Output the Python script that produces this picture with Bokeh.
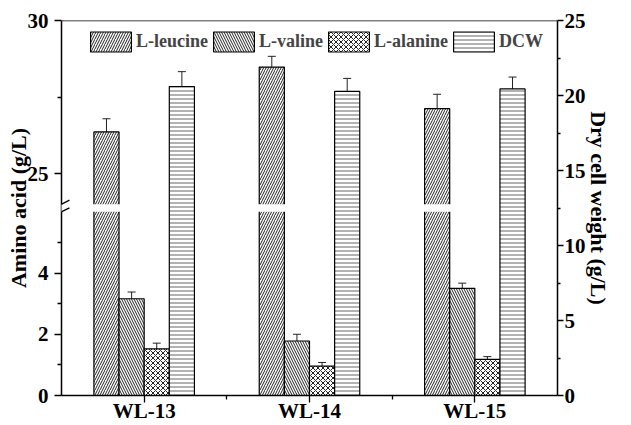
import math
from bokeh.plotting import figure
from bokeh.models import (Range1d, LinearAxis, FixedTicker, Whisker, TeeHead, ColumnDataSource,
                          Legend, LegendItem, Span, PolyAnnotation, Arrow)
from bokeh.core.properties import value
from bokeh.embed import file_html
from bokeh.resources import INLINE

# ---------------- data ----------------
categories = ["WL-13", "WL-14", "WL-15"]
series_names = ["L-leucine", "L-valine", "L-alanine", "DCW"]
leucine = [26.36, 28.48, 27.12]
leucine_err = [0.43, 0.35, 0.47]
valine = [3.16, 1.78, 3.50]
valine_err = [0.22, 0.22, 0.17]
alanine = [1.52, 0.96, 1.18]
alanine_err = [0.19, 0.12, 0.09]
dcw = [20.60, 20.27, 20.44]
dcw_err = [0.99, 0.87, 0.79]

left_major = [0, 2, 4, 25, 30]
left_minor = [1, 3, 5, 27.5]
right_major = [0, 5, 10, 15, 20, 25]
right_minor = [2.5, 7.5, 12.5, 17.5, 22.5]

# broken left axis: [0, 6] and [24, 30]
LOWER_END = 6.0
UPPER_START = 24.0
UPPER_END = 30.0
GAP = 0.25


def to_axis(v):
    return v if v <= LOWER_END else v - UPPER_START + LOWER_END + GAP


FONT = "Liberation Serif"
W, H = 615, 425
BL, BR, BT, BB = 61, 58, 20, 30

p = figure(width=W, height=H, output_backend="svg", toolbar_location=None,
           x_range=Range1d(-0.5, 2.5), y_range=Range1d(0, to_axis(UPPER_END)),
           x_axis_type=None, y_axis_type=None,
           min_border_left=BL, min_border_right=BR, min_border_top=BT, min_border_bottom=BB)
p.outline_line_color = None
p.background_fill_color = "white"
p.border_fill_color = "white"
p.extra_y_ranges = {"right": Range1d(0, 25)}

bw = 0.152
offsets = [-1.5 * bw, -0.5 * bw, 0.5 * bw, 1.5 * bw]
xs = list(range(len(categories)))


def xpos(k):
    return [x + offsets[k] for x in xs]


common = dict(width=bw, line_color="black", line_width=1.2, fill_color="white", hatch_weight=1)
r_leu = p.vbar(x=xpos(0), top=[to_axis(v) for v in leucine], bottom=0,
               hatch_pattern="right_diagonal_line", hatch_scale=5, hatch_color="#222", **common)
r_val = p.vbar(x=xpos(1), top=valine, bottom=0,
               hatch_pattern="left_diagonal_line", hatch_scale=5, hatch_color="#222", **common)
r_ala = p.vbar(x=xpos(2), top=alanine, bottom=0,
               hatch_pattern="diagonal_cross", hatch_scale=5, hatch_color="#222", **common)
r_dcw = p.vbar(x=xpos(3), top=dcw, bottom=0, y_range_name="right",
               hatch_pattern="horizontal_line", hatch_scale=4, hatch_color="#666", **common)

# white gap through the broken leucine bars
p.vbar(x=xpos(0), bottom=LOWER_END, top=to_axis(UPPER_START), width=bw + 0.03,
       fill_color="white", line_color=None)


def add_err(xv, yv, ev, range_name="default"):
    src = ColumnDataSource(dict(
        x=xv,
        upper=[to_axis(a + b) if range_name == "default" else a + b for a, b in zip(yv, ev)],
        lower=[to_axis(a - b) if range_name == "default" else a - b for a, b in zip(yv, ev)],
    ))
    w = Whisker(source=src, base="x", upper="upper", lower="lower", dimension="height",
                line_color="#222", line_width=1, y_range_name=range_name,
                upper_head=TeeHead(size=8, line_color="#222", line_width=1),
                lower_head=TeeHead(size=8, line_color="#222", line_width=1))
    p.add_layout(w)


add_err(xpos(0), leucine, leucine_err)
add_err(xpos(1), valine, valine_err)
add_err(xpos(2), alanine, alanine_err)
add_err(xpos(3), dcw, dcw_err, "right")


def style_axis(ax, tick_out, minor_out, standoff):
    ax.axis_line_color = "black"
    ax.axis_line_width = 1.5
    ax.major_tick_line_color = "black"
    ax.major_tick_line_width = 1.3
    ax.minor_tick_line_color = "black"
    ax.minor_tick_line_width = 1.3
    ax.major_tick_in = 0
    ax.major_tick_out = tick_out
    ax.minor_tick_in = 0
    ax.minor_tick_out = minor_out
    ax.major_label_standoff = standoff
    ax.major_label_text_font = FONT
    ax.major_label_text_font_style = "bold"
    ax.major_label_text_font_size = "21px"
    ax.major_label_text_color = "black"
    ax.axis_label_text_font = FONT
    ax.axis_label_text_font_style = "bold"
    ax.axis_label_text_font_size = "22px"
    ax.axis_label_text_color = "black"


left = LinearAxis(ticker=FixedTicker(ticks=[to_axis(t) for t in left_major],
                                     minor_ticks=[to_axis(t) for t in left_minor]),
                  major_label_overrides={to_axis(t): str(t) for t in left_major},
                  axis_label="Amino acid (g/L)")
style_axis(left, 7, 4, 6)
left.axis_label_standoff = -6
p.add_layout(left, "left")

right = LinearAxis(y_range_name="right",
                   ticker=FixedTicker(ticks=right_major, minor_ticks=right_minor),
                   axis_label="Dry cell weight (g/L)")
style_axis(right, 6, 3, 1)
right.axis_label_standoff = -3
p.add_layout(right, "right")

bottom = LinearAxis(ticker=FixedTicker(ticks=xs, minor_ticks=[0.5, 1.5]),
                    major_label_overrides={i: c for i, c in enumerate(categories)})
style_axis(bottom, 7, 4, -4)
p.add_layout(bottom, "below")

# top frame line
p.add_layout(Span(location=to_axis(UPPER_END), dimension="width", line_color="black", line_width=1.5))

# axis break marks
x0 = -0.5
p.add_layout(PolyAnnotation(xs=[x0 - 0.03, x0 + 0.03, x0 + 0.03, x0 - 0.03],
                            ys=[LOWER_END, LOWER_END, to_axis(UPPER_START), to_axis(UPPER_START)],
                            fill_color="white", fill_alpha=1, line_color=None))
for yb in (LOWER_END, to_axis(UPPER_START)):
    p.add_layout(Arrow(start=None, end=None, x_start=x0 - 0.048, y_start=yb - 0.13,
                       x_end=x0 + 0.048, y_end=yb + 0.13, line_color="black", line_width=1.4))

legend = Legend(items=[LegendItem(label=value(n), renderers=[r])
                       for n, r in zip(series_names, [r_leu, r_val, r_ala, r_dcw])],
                orientation="horizontal", location=(24, 341), border_line_color=None,
                background_fill_alpha=0, padding=0, margin=0, spacing=-1,
                glyph_width=51, glyph_height=25, label_standoff=0,
                label_text_font=FONT, label_text_font_style="bold", label_text_font_size="18px")
p.add_layout(legend)

open("out.html", "w").write(file_html(p, INLINE))
